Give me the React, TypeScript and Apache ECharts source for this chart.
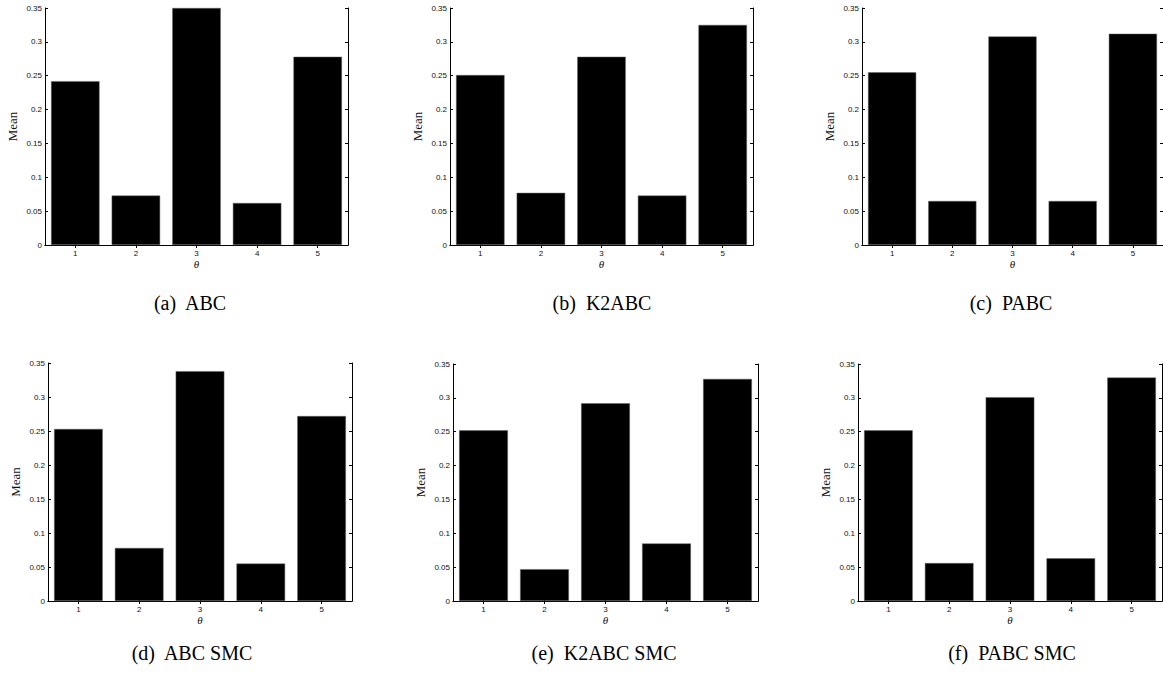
import React, { useEffect, useRef } from "react";
import * as echarts from "echarts";

const categories = ["1", "2", "3", "4", "5"];

const valuesABC = [0.242, 0.073, 0.35, 0.062, 0.278];
const valuesK2ABC = [0.251, 0.077, 0.278, 0.073, 0.325];
const valuesPABC = [0.255, 0.065, 0.308, 0.065, 0.312];
const valuesABCSMC = [0.253, 0.078, 0.338, 0.055, 0.272];
const valuesK2ABCSMC = [0.252, 0.047, 0.292, 0.085, 0.328];
const valuesPABCSMC = [0.252, 0.056, 0.301, 0.063, 0.33];

const captions = [
  "(a)  ABC",
  "(b)  K2ABC",
  "(c)  PABC",
  "(d)  ABC SMC",
  "(e)  K2ABC SMC",
  "(f)  PABC SMC",
];

const yMin = 0;
const yMax = 0.35;
const yStep = 0.05;

const panels = [
  { data: valuesABC, box: [45, 8, 303, 237], cap: [190, 303] },
  { data: valuesK2ABC, box: [450, 8, 303, 237], cap: [602, 303] },
  { data: valuesPABC, box: [862, 8, 303, 237], cap: [1011, 303] },
  { data: valuesABCSMC, box: [48, 363, 304, 238], cap: [192, 653] },
  { data: valuesK2ABCSMC, box: [453, 364, 305, 237], cap: [604, 653] },
  { data: valuesPABCSMC, box: [858, 364, 304, 237], cap: [1012, 653] },
];

export default function App() {
  const ref = useRef<HTMLDivElement>(null);
  useEffect(() => {
    if (!ref.current) return;
    const chart = echarts.init(ref.current, null, { renderer: "svg" });
    const grid: any[] = [];
    const xAxis: any[] = [];
    const yAxis: any[] = [];
    const series: any[] = [];
    const graphic: any[] = [];
    const line = { show: true, lineStyle: { color: "#000", width: 1 } };
    const tickStyle = { color: "#000", width: 1 };
    panels.forEach((p, i) => {
      const [l, t, w, h] = p.box;
      grid.push({ left: l, top: t, width: w, height: h, containLabel: false });
      xAxis.push({
        type: "category",
        gridIndex: i,
        data: categories,
        boundaryGap: true,
        position: "bottom",
        axisLine: line,
        axisTick: { show: true, inside: true, length: 3, alignWithLabel: true, lineStyle: tickStyle },
        axisLabel: { color: "#111", fontSize: 8, fontFamily: "Liberation Sans", margin: 4 },
        name: "θ",
        nameLocation: "middle",
        nameGap: 13,
        nameTextStyle: { color: "#111", fontSize: 11, fontStyle: "italic", fontFamily: "Liberation Serif" },
        splitLine: { show: false },
      });
      xAxis.push({
        type: "category",
        gridIndex: i,
        data: categories,
        boundaryGap: true,
        position: "top",
        axisLine: line,
        axisTick: { show: true, inside: true, length: 3, alignWithLabel: true, lineStyle: tickStyle },
        axisLabel: { show: false },
        splitLine: { show: false },
      });
      yAxis.push({
        type: "value",
        gridIndex: i,
        min: yMin,
        max: yMax,
        interval: yStep,
        position: "left",
        axisLine: line,
        axisTick: { show: true, inside: true, length: 3, lineStyle: tickStyle },
        axisLabel: { color: "#111", fontSize: 8, fontFamily: "Liberation Sans", margin: 3 },
        splitLine: { show: false },
        name: "Mean",
        nameLocation: "middle",
        nameGap: 26,
        nameTextStyle: { color: "#111", fontSize: 13, fontFamily: "Liberation Serif" },
      });
      yAxis.push({
        type: "value",
        gridIndex: i,
        min: yMin,
        max: yMax,
        interval: yStep,
        position: "right",
        axisLine: line,
        axisTick: { show: true, inside: true, length: 3, lineStyle: tickStyle },
        axisLabel: { show: false },
        splitLine: { show: false },
      });
      series.push({
        type: "bar",
        xAxisIndex: 2 * i,
        yAxisIndex: 2 * i,
        data: p.data,
        barWidth: "80%",
        itemStyle: { color: "#000", borderColor: "#666", borderWidth: 0.5 },
        silent: true,
      });
      graphic.push({
        type: "text",
        x: p.cap[0],
        y: p.cap[1],
        style: {
          text: captions[i],
          fontSize: 20,
          fontFamily: "Liberation Serif",
          fill: "#000",
          textAlign: "center",
          textVerticalAlign: "middle",
        },
      });
    });
    chart.setOption({
      animation: false,
      backgroundColor: "#fff",
      grid,
      xAxis,
      yAxis,
      series,
      graphic,
    });
    return () => chart.dispose();
  }, []);
  return (
    <div
      ref={ref}
      style={{ position: "fixed", left: 0, top: 0, width: 1163, height: 675 }}
    />
  );
}
